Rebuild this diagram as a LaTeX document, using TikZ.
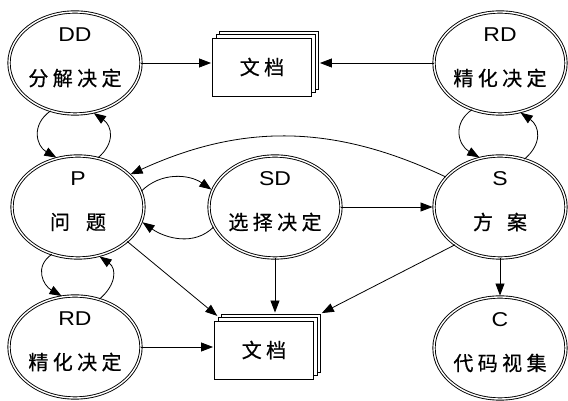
\documentclass[tikz,border=0pt]{standalone}
\usepackage{fontspec}
\usetikzlibrary{arrows.meta,shapes.geometric,shadows}
\newfontfamily\lbl[FakeStretch=1.15]{Liberation Sans}
\newfontfamily\cjk[LetterSpace=22,FakeBold=0.6]{Noto Sans CJK SC}

\begin{document}
\begin{tikzpicture}[>={Triangle[length=12pt,width=9pt]}, x=1pt, y=1pt, line width=0.8pt]

\tikzset{
  dec/.style={ellipse, draw, double, double distance=1.4pt, line width=0.9pt,
    minimum width=132pt, minimum height=102pt, inner sep=0pt},
  toptxt/.style={font=\lbl\fontsize{20}{22}\selectfont, inner sep=0pt},
  bottxt/.style={font=\cjk\fontsize{20}{22}\selectfont, inner sep=0pt},
  sheet/.style={fill=white, draw=black, line width=0.9pt},
  doc/.style={rectangle, sheet, minimum width=99pt, minimum height=58pt, inner sep=0pt,
    font=\cjk\fontsize{20}{22}\selectfont,
    copy shadow={shadow xshift=7pt, shadow yshift=7pt, sheet},
    copy shadow={shadow xshift=3.5pt, shadow yshift=3.5pt, sheet}},
  link/.style={->, shorten >=1pt}
}

% Macro: one decision ellipse, code on top, name below
\newcommand{\decision}[4]{
  \node[dec] (#1) at (#2) {};
  \node[toptxt] (#1-code) at ([yshift=28pt]#1.center) {#3};
  \node[bottxt] (#1-name) at ([yshift=-15pt]#1.center) {#4};
}

\fill[white] (0,0) rectangle (568,401);
\useasboundingbox (0,0) rectangle (568,401);

% Ellipses
\decision{dd}{75,338}{DD}{分解决定}
\decision{rdt}{500,338}{RD}{精化决定}
\decision{p}{78,194}{P}{问\hspace{16pt}题}
\decision{sd}{275,194}{SD}{选择决定}
\decision{s}{500,194}{S}{方\hspace{14pt}案}
\decision{rdb}{75,54}{RD}{精化决定}
\decision{c}{500,53}{C}{代码视集}

% Document stacks
\node[doc] (doct) at (262,334) {文档};
\node[doc] (docb) at (264,51) {文档};

% Top row into the document
\draw[link] (dd.east) -- (dd.east -| doct.west);
\draw[link] (rdt.west) -- ([xshift=7pt]rdt.west -| doct.east);

% Loops between neighbours
\draw[link] (dd.243) to[out=215, in=150, looseness=1.3] (p.113);
\draw[link] (p.68) to[out=40, in=-35, looseness=1.3] (dd.290);
\draw[link] (rdt.239) to[out=215, in=150, looseness=1.3] (s.112);
\draw[link] (s.63) to[out=40, in=-35, looseness=1.3] (rdt.292);
\draw[link] (p.241) to[out=215, in=150, looseness=1.3] (rdb.104);
\draw[link] (rdb.63) to[out=40, in=-35, looseness=1.3] (p.293);

% Middle row
\draw[link] (p.14) to[out=45, in=145] (sd.165);
\draw[link] (sd.198) to[out=225, in=-35] (p.347);
\draw[link] (sd.east) -- (s.west);
\draw[link] (s.151) to[bend right=25] (p.32);

% Into the lower document and the code
\draw[link] (p.325) -- ([shift={(4pt,4pt)}]docb.north west);
\draw[link] (sd.south) -- ([yshift=7pt]sd.south |- docb.north);
\draw[link] (s.220) -- ([shift={(7pt,7pt)}]docb.north east);
\draw[link] (rdb.east) -- (rdb.east -| docb.west);
\draw[link] (s.south) -- (c.north);

\end{tikzpicture}
\end{document}
